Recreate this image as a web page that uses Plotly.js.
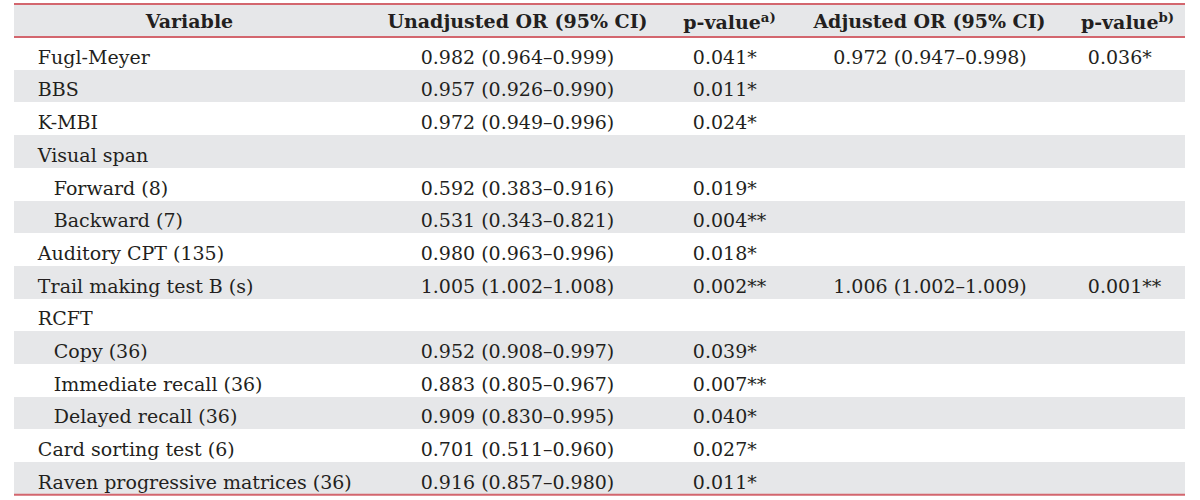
<!DOCTYPE html>
<html>
<head>
<meta charset="utf-8">
<script src="https://cdn.plot.ly/plotly-3.0.1.min.js"></script>
<style>html,body{margin:0;padding:0;background:#fff;}#chart{width:1200px;height:500px;}</style>
</head>
<body>
<div id="chart"></div>
<script>
const headers = ["<b>Variable</b>", "<b>Unadjusted OR (95% CI)</b>", "<b>p-value<sup>a)</sup></b>", "<b>Adjusted OR (95% CI)</b>", "<b>p-value<sup>b)</sup></b>"];
const variables = ["Fugl-Meyer", "BBS", "K-MBI", "Visual span", "Forward (8)", "Backward (7)", "Auditory CPT (135)", "Trail making test B (s)", "RCFT", "Copy (36)", "Immediate recall (36)", "Delayed recall (36)", "Card sorting test (6)", "Raven progressive matrices (36)"];
const indentLevel = [0, 0, 0, 0, 1, 1, 0, 0, 0, 1, 1, 1, 0, 0];
const unadjustedOR = ["0.982 (0.964–0.999)", "0.957 (0.926–0.990)", "0.972 (0.949–0.996)", "", "0.592 (0.383–0.916)", "0.531 (0.343–0.821)", "0.980 (0.963–0.996)", "1.005 (1.002–1.008)", "", "0.952 (0.908–0.997)", "0.883 (0.805–0.967)", "0.909 (0.830–0.995)", "0.701 (0.511–0.960)", "0.916 (0.857–0.980)"];
const pValueA = ["0.041*", "0.011*", "0.024*", "", "0.019*", "0.004**", "0.018*", "0.002**", "", "0.039*", "0.007**", "0.040*", "0.027*", "0.011*"];
const adjustedOR = ["0.972 (0.947–0.998)", "", "", "", "", "", "", "1.006 (1.002–1.009)", "", "", "", "", "", ""];
const pValueB = ["0.036*", "", "", "", "", "", "", "0.001**", "", "", "", "", "", ""];

const NB = "\u00a0", TH = "\u2009";
const IND = NB + NB + TH;
const col1 = variables.map((v, i) => IND.repeat(1 + indentLevel[i]) + v);
const col3 = pValueA.map(v => v ? IND + v : v);
const col5 = pValueB.map(v => v ? NB + TH + v : v);

const gray = "#e6e7e9";
const clear = "rgba(0,0,0,0)";
const rowFill = variables.map((_, i) => i % 2 === 1 ? gray : "#ffffff");

const W = 1200, H = 500;
const x0 = 14, x1 = 1185;
const yTop = 4, headerH = 33, rowH = 32.7;
const yBottom = yTop + headerH + rowH * variables.length;
const colW = [352, 303, 121, 280, 115];
const headerLift = 2.5;   // Plotly sets table text low in the cell; lift the text layer
const cellLift = 8.5;
const font = {family: "DejaVu Serif", size: 19, color: "#231f20"};

// background table: header fill and row banding
const bandTrace = {
  type: "table",
  domain: {x: [x0 / W, x1 / W], y: [0, 1 - yTop / H]},
  columnwidth: colW,
  header: {values: headers.map(() => ""), height: headerH, fill: {color: gray}, line: {width: 0, color: gray}},
  cells: {values: colW.map(() => variables.map(() => "")), height: rowH,
          fill: {color: colW.map(() => rowFill)}, line: {width: 0, color: "#ffffff"}},
  hoverinfo: "skip"
};

// text table (transparent), drawn over the banding
const textTrace = {
  type: "table",
  domain: {x: [x0 / W, x1 / W], y: [0, 1 - (yTop - headerLift) / H]},
  columnwidth: colW,
  header: {values: headers, align: "center", height: headerH + headerLift - cellLift,
           fill: {color: clear}, line: {width: 0, color: clear}, font: font},
  cells: {values: [col1, unadjustedOR, col3, adjustedOR, col5],
          align: ["left", "center", "left", "center", "left"], height: rowH,
          fill: {color: clear}, line: {width: 0, color: clear}, font: font}
};

const lineColor = "#d3666e";
const hline = (y) => ({type: "line", xref: "paper", yref: "paper", layer: "above", x0: x0 / W, x1: x1 / W, y0: 1 - y / H, y1: 1 - y / H, line: {color: lineColor, width: 2}});

const layout = {
  width: W, height: H,
  margin: {l: 0, r: 0, t: 0, b: 0},
  paper_bgcolor: "#ffffff",
  shapes: [hline(yTop), hline(yTop + headerH), hline(yBottom)],
  showlegend: false
};

Plotly.newPlot("chart", [bandTrace, textTrace], layout, {displayModeBar: false, staticPlot: true});
</script>
</body>
</html>
